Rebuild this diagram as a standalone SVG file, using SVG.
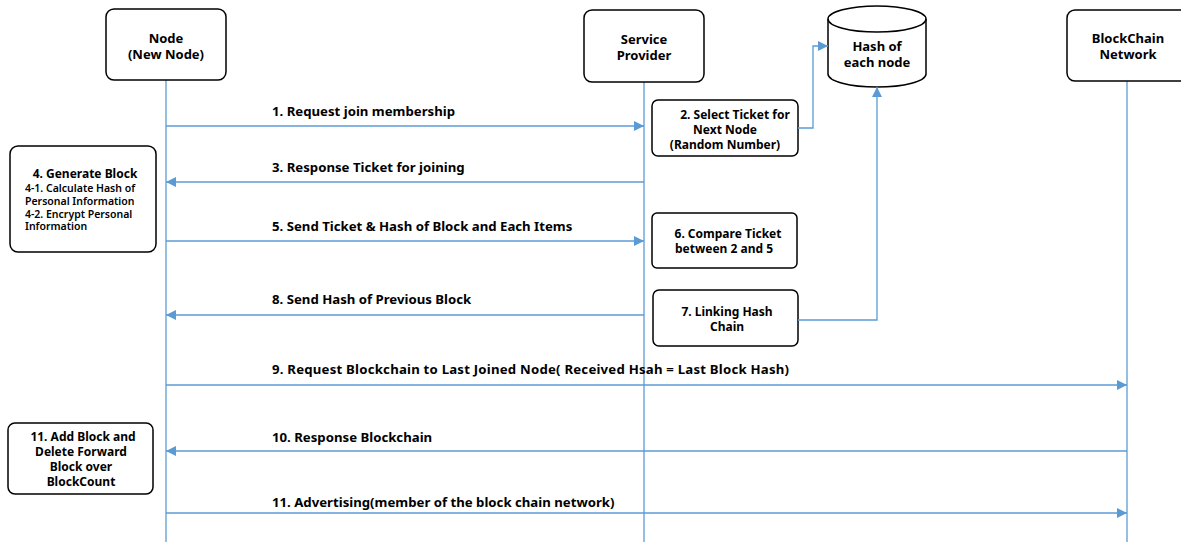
<svg xmlns="http://www.w3.org/2000/svg" width="1181" height="542" viewBox="0 0 1181 542">
<defs>
<marker id="ah" viewBox="0 0 10 10" refX="10" refY="5" markerWidth="10" markerHeight="10" markerUnits="userSpaceOnUse" orient="auto">
<path d="M0,0 L10,5 L0,10 Z" fill="#5B9BD5"/>
</marker>
<style>
.box{fill:#fff;stroke:#000;stroke-width:1.5}
.life{stroke:#5B9BD5;stroke-width:1.3;fill:none}
.msg{stroke:#5B9BD5;stroke-width:1.3;fill:none}
.t{font-family:"Noto Sans","Liberation Sans",sans-serif;font-weight:bold;font-size:13.2px;fill:#000}
.tb{font-family:"Noto Sans","Liberation Sans",sans-serif;font-weight:bold;font-size:13px;fill:#000;text-anchor:middle}
.tc{font-family:"Noto Sans","Liberation Sans",sans-serif;font-weight:bold;font-size:12px;fill:#000;text-anchor:middle}
.ts{font-family:"Noto Sans","Liberation Sans",sans-serif;font-weight:600;font-size:10.5px;fill:#000}
</style>
</defs>
<rect width="1181" height="542" fill="#fff"/>
<g id="lifelines">
<line class="life" x1="166" y1="80" x2="166" y2="542"/>
<line class="life" x1="644" y1="82" x2="644" y2="542"/>
<line class="life" x1="1127" y1="81" x2="1127" y2="542"/>
</g>
<g id="node-new">
<rect class="box" x="106" y="9" width="120" height="71" rx="8"/>
<text class="tb" x="166" y="43">Node</text>
<text class="tb" x="166" y="59">(New Node)</text>
</g>
<g id="node-sp">
<rect class="box" x="584" y="10" width="120" height="72" rx="8"/>
<text class="tb" x="644" y="44">Service</text>
<text class="tb" x="644" y="60">Provider</text>
</g>
<g id="node-hash">
<path class="box" d="M828,19 L828,74 A49,13 0 0 0 926,74 L926,19 A49,13 0 0 0 828,19 Z"/>
<path d="M828,19 A49,13 0 0 0 926,19" fill="none" stroke="#000" stroke-width="1.5"/>
<text class="tb" x="877" y="51">Hash of</text>
<text class="tb" x="877" y="67">each node</text>
</g>
<g id="node-bc">
<rect class="box" x="1067" y="10" width="130" height="71" rx="8"/>
<text class="tb" x="1128" y="43">BlockChain</text>
<text class="tb" x="1128" y="59">Network</text>
</g>
<g id="step2">
<rect class="box" x="652" y="100" width="146" height="56" rx="6"/>
<text class="tc" x="735" y="119">2. Select Ticket for</text>
<text class="tc" x="725" y="134">Next Node</text>
<text class="tc" x="725" y="149">(Random Number)</text>
</g>
<g id="step4">
<rect class="box" x="10" y="146" width="146" height="106" rx="8"/>
<text class="tc" x="85" y="178">4. Generate Block</text>
<text class="ts" x="25" y="192">4-1. Calculate Hash of</text>
<text class="ts" x="25" y="205">Personal Information</text>
<text class="ts" x="25" y="218">4-2. Encrypt Personal</text>
<text class="ts" x="25" y="230">Information</text>
</g>
<g id="step6">
<rect class="box" x="652" y="213" width="145" height="55" rx="5"/>
<text class="tc" x="728" y="238">6. Compare Ticket</text>
<text class="tc" x="724" y="253">between 2 and 5</text>
</g>
<g id="step7">
<rect class="box" x="653" y="290" width="145" height="56" rx="6"/>
<text class="tc" x="727" y="316">7. Linking Hash</text>
<text class="tc" x="727" y="331">Chain</text>
</g>
<g id="step11">
<rect class="box" x="8" y="423" width="145" height="71" rx="7"/>
<text class="tc" x="83" y="441">11. Add Block and</text>
<text class="tc" x="81" y="456">Delete Forward</text>
<text class="tc" x="81" y="471">Block over</text>
<text class="tc" x="81" y="486">BlockCount</text>
</g>
<g id="connectors">
<line class="msg" x1="166" y1="126" x2="644" y2="126" marker-end="url(#ah)"/>
<polyline class="msg" points="798,128 813,128 813,46 828,46" marker-end="url(#ah)"/>
<line class="msg" x1="644" y1="182" x2="166" y2="182" marker-end="url(#ah)"/>
<line class="msg" x1="166" y1="241" x2="644" y2="241" marker-end="url(#ah)"/>
<line class="msg" x1="644" y1="315" x2="166" y2="315" marker-end="url(#ah)"/>
<polyline class="msg" points="798,320 877,320 877,87" marker-end="url(#ah)"/>
<line class="msg" x1="166" y1="385" x2="1127" y2="385" marker-end="url(#ah)"/>
<line class="msg" x1="1127" y1="451" x2="166" y2="451" marker-end="url(#ah)"/>
<line class="msg" x1="166" y1="513" x2="1127" y2="513" marker-end="url(#ah)"/>
</g>
<g id="labels">
<text class="t" x="272" y="116">1. Request join membership</text>
<text class="t" x="272" y="172">3. Response Ticket for joining</text>
<text class="t" x="272" y="231">5. Send Ticket &amp; Hash of Block and Each Items</text>
<text class="t" x="272" y="304">8. Send Hash of Previous Block</text>
<text class="t" x="272" y="374" textLength="517" lengthAdjust="spacing">9. Request Blockchain to Last Joined Node( Received Hsah = Last Block Hash)</text>
<text class="t" x="272" y="442">10. Response Blockchain</text>
<text class="t" x="272" y="507">11. Advertising(member of the block chain network)</text>
</g>
</svg>
